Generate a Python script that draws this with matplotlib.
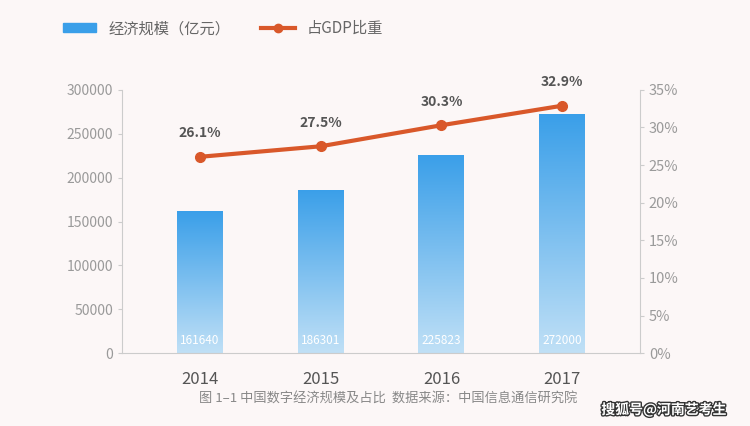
import numpy as np
import matplotlib.pyplot as plt
from matplotlib.colors import LinearSegmentedColormap
from matplotlib.lines import Line2D
from matplotlib.patches import Patch
import matplotlib.patheffects as pe

plt.rcParams['font.family'] = ['Noto Sans CJK SC', 'DejaVu Sans']

years = ["2014", "2015", "2016", "2017"]
scale = [161640, 186301, 225823, 272000]
gdp_share = [26.1, 27.5, 30.3, 32.9]

bg = "#fcf7f7"
blue_top = "#3a9fe9"
blue_bottom = "#c0e0f6"
orange = "#d9582a"
grey = "#9a9a9a"

fig = plt.figure(figsize=(7.5, 4.26), dpi=100, facecolor=bg)
ax = fig.add_axes([0.163, 0.171, 0.69, 0.618], facecolor=bg)
x = np.arange(len(years))

bars = ax.bar(x, scale, width=0.38, color=blue_top, zorder=2)
cmap = LinearSegmentedColormap.from_list("bar", [blue_bottom, blue_top])
grad = np.linspace(0, 1, 256).reshape(-1, 1)
for b in bars:
    x0, w, h = b.get_x(), b.get_width(), b.get_height()
    im = ax.imshow(grad, extent=[x0, x0 + w, 0, h], origin="lower",
                   cmap=cmap, aspect="auto", zorder=2)
    im.set_clip_path(b)
    ax.text(x0 + w / 2, 14000, str(int(h)), ha="center", va="center",
            color="white", fontsize=8.5, zorder=3)

ax.set_xlim(-0.64, 3.64)
ax.set_ylim(0, 300000)
ax.set_yticks(range(0, 300001, 50000))
ax.set_xticks(x)
ax.set_xticklabels(years, fontsize=12, color="#555555")
ax.tick_params(axis="x", length=0, pad=13)
ax.tick_params(axis="y", colors="#cccccc", labelcolor=grey, labelsize=10, length=3)
for s in ["top", "right"]:
    ax.spines[s].set_visible(False)
for s in ["left", "bottom"]:
    ax.spines[s].set_color("#cccccc")

ax2 = ax.twinx()
ax2.set_ylim(0, 35)
ax2.set_yticks(range(0, 36, 5))
ax2.set_yticklabels([f"{v}%" for v in range(0, 36, 5)])
ax2.tick_params(axis="y", colors="#cccccc", labelcolor=grey, labelsize=10.5, length=3)
for s in ["top", "left", "bottom"]:
    ax2.spines[s].set_visible(False)
ax2.spines["right"].set_color("#cccccc")
ax2.plot(x, gdp_share, color=orange, lw=3, marker="o", ms=7, zorder=4)
for xi, v in zip(x, gdp_share):
    ax2.annotate(f"{v}%", (xi, v), xytext=(0, 12), textcoords="offset points",
                 ha="center", va="bottom", fontsize=10, fontweight="bold",
                 color="#555555")
ax2.set_xlim(-0.64, 3.64)

handles = [Patch(color=blue_top),
           Line2D([0], [0], color=orange, lw=3, marker="o", ms=6)]
fig.legend(handles, ["经济规模（亿元）", "占GDP比重"], loc="upper left",
           bbox_to_anchor=(0.065, 0.985), ncol=2, frameon=False,
           fontsize=11, labelcolor="#666666", handlelength=2.2,
           handletextpad=0.8, columnspacing=2.0, handleheight=0.5)

fig.text(0.517, 0.063, "图 1–1 中国数字经济规模及占比  数据来源：中国信息通信研究院",
         ha="center", va="center", fontsize=9.5, color="#888888")
fig.text(0.885, 0.038, "搜狐号@河南艺考生", ha="center", va="center",
         fontsize=10, color="white", fontweight="bold",
         path_effects=[pe.withStroke(linewidth=2, foreground="#333333")])

fig.savefig("out.png", dpi=100, facecolor=bg)
